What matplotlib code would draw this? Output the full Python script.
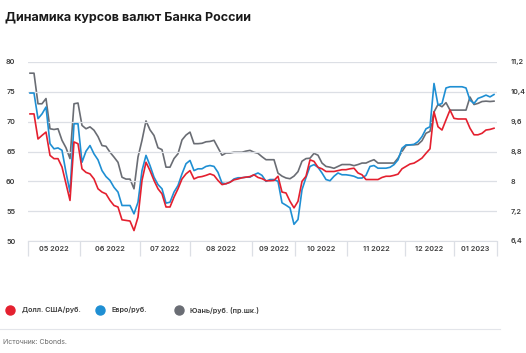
import matplotlib
matplotlib.use("Agg")
import matplotlib.pyplot as plt
from matplotlib.lines import Line2D
import numpy as np

plt.rcParams['font.family'] = ['Inter', 'DejaVu Sans']

# ---- data ----
usd = [71.3, 71.3, 67.1, 67.7, 68.25, 64.35, 63.8, 63.8, 62.4, 59.6,
       56.8, 66.6, 66.3, 62.1, 61.5, 61.25, 60.4, 58.75, 58.2, 57.9,
       56.8, 55.95, 55.7, 53.55, 53.45, 53.35, 51.75, 54.0, 60.15, 63.2,
       61.8, 60.15, 58.75, 57.9, 55.7, 55.7, 57.35, 58.75, 60.4, 61.25,
       61.8, 60.4, 60.7, 60.8, 61.0, 61.25, 61.0, 60.15, 59.45, 59.6,
       59.85, 60.25, 60.4, 60.6, 60.7, 60.8, 61.1, 60.65, 60.45, 60.1,
       60.1, 60.15, 60.85, 58.2, 58.05, 56.65, 55.55, 56.65, 60.0, 60.85,
       63.6, 63.35, 62.35, 62.1, 61.65, 61.65, 61.65, 61.8, 61.95, 61.95,
       62.1, 62.2, 61.4, 61.1, 60.3, 60.3, 60.3, 60.3, 60.65, 60.85,
       60.85, 61.0, 61.2, 62.1, 62.5, 62.9, 63.05, 63.45, 63.9, 64.7,
       65.45, 71.65, 69.15, 68.6, 70.3, 71.95, 70.55, 70.45, 70.45, 70.45,
       68.9, 67.8, 67.8, 68.05, 68.6, 68.7, 68.9]

eur = [74.8, 74.8, 70.5, 71.3, 72.45, 66.3, 65.45, 65.6, 65.2, 61.5,
       58.2, 69.65, 69.65, 63.2, 65.05, 66.0, 64.6, 63.6, 61.8, 60.8,
       60.15, 59.0, 58.2, 55.95, 55.95, 55.95, 54.55, 56.5, 61.8, 64.35,
       62.65, 60.7, 59.45, 58.75, 56.35, 56.5, 58.2, 59.3, 61.25, 62.95,
       63.5, 61.8, 62.1, 62.1, 62.5, 62.65, 62.5, 61.5, 59.7, 59.6,
       59.85, 60.4, 60.6, 60.6, 60.7, 60.7, 61.1, 61.4, 61.0, 60.0,
       60.3, 60.3, 60.0, 56.4, 56.0, 55.55, 52.8, 53.6, 58.6, 60.65,
       62.5, 62.8, 62.35, 61.4, 60.3, 60.1, 60.85, 61.4, 61.1, 61.1,
       61.0, 60.85, 60.55, 60.55, 61.0, 62.5, 62.65, 62.2, 62.2, 62.2,
       62.35, 62.8, 63.6, 65.55, 66.1, 66.1, 66.2, 66.65, 67.5, 68.8,
       69.15, 76.4, 72.8, 73.05, 75.65, 75.85, 75.85, 75.85, 75.85, 75.65,
       73.6, 73.05, 73.9, 74.15, 74.45, 74.15, 74.55]

cny = [10.90, 10.90, 10.08, 10.08, 10.22, 9.41, 9.39, 9.41, 9.10, 8.90,
       8.61, 10.08, 10.10, 9.50, 9.41, 9.46, 9.37, 9.20, 8.96, 8.94,
       8.78, 8.65, 8.51, 8.11, 8.06, 8.06, 7.80, 8.65, 9.10, 9.62,
       9.38, 9.23, 8.90, 8.85, 8.38, 8.38, 8.61, 8.74, 9.11, 9.24,
       9.32, 9.01, 9.01, 9.02, 9.06, 9.07, 9.10, 8.90, 8.70, 8.76,
       8.76, 8.78, 8.78, 8.78, 8.81, 8.83, 8.78, 8.75, 8.66, 8.58,
       8.58, 8.58, 8.22, 8.14, 8.09, 8.07, 8.14, 8.26, 8.54, 8.61,
       8.62, 8.75, 8.70, 8.49, 8.40, 8.38, 8.35, 8.40, 8.45, 8.45,
       8.45, 8.42, 8.45, 8.49, 8.49, 8.54, 8.58, 8.49, 8.49, 8.49,
       8.49, 8.49, 8.62, 8.80, 8.96, 8.98, 8.98, 8.99, 9.09, 9.29,
       9.34, 9.86, 10.06, 10.00, 10.11, 9.91, 9.91, 9.91, 9.91, 9.91,
       10.26, 10.06, 10.09, 10.14, 10.15, 10.14, 10.15]

month_labels = ['05 2022', '06 2022', '07 2022', '08 2022', '09 2022',
                '10 2022', '11 2022', '12 2022', '01 2023']
month_edges = [-0.5, 12.5, 27.5, 40, 55.5, 66.25, 79.25, 93.75, 106, 116.75]

left_ticks = [50, 55, 60, 65, 70, 75, 80]
right_ticks = [6.4, 7.2, 8.0, 8.8, 9.6, 10.4, 11.2]
right_labels = ['6,4', '7,2', '8', '8,8', '9,6', '10,4', '11,2']

series_names = ['Долл. США/руб.', 'Евро/руб.', 'Юань/руб. (пр.шк.)']

# ---- style ----
RED = '#e4202f'
BLUE = '#1f8fd3'
GREY = '#6a6d74'
GRID = '#dcdfe5'
TXT = '#3a3a3a'

W, H = 526, 353
fig = plt.figure(figsize=(W / 100, H / 100), dpi=100)
ax = fig.add_axes([28 / W, 1 - 241 / H, (497 - 28) / W, 179 / H])
ax2 = ax.twinx()

x = np.arange(len(usd))
ax2.plot(x, cny, color=GREY, lw=1.2, zorder=3)
ax.plot(x, eur, color=BLUE, lw=1.2, zorder=4)
ax.plot(x, usd, color=RED, lw=1.2, zorder=5)
ax.set_zorder(ax2.get_zorder() + 1)
ax.patch.set_visible(False)

ax.set_ylim(50, 80)
ax2.set_ylim(6.4, 11.2)
ax.set_xlim(month_edges[0], month_edges[-1])

ax.set_yticks(left_ticks)
ax.set_yticklabels([str(t) for t in left_ticks])
ax2.set_yticks(right_ticks)
ax2.set_yticklabels(right_labels)

for a in (ax, ax2):
    for s in a.spines.values():
        s.set_visible(False)
ax.spines['bottom'].set_visible(True)
ax.spines['bottom'].set_color(GRID)

ax.grid(axis='y', color=GRID, lw=0.9)
ax.tick_params(axis='y', length=0, pad=9, labelsize=5.2, labelcolor=TXT)
ax2.tick_params(axis='y', length=0, pad=10, labelsize=5.2, labelcolor=TXT)
for lab in ax.get_yticklabels() + ax2.get_yticklabels():
    lab.set_fontweight('semibold')

# month band
ax.set_xticks(month_edges)
ax.set_xticklabels([])
ax.tick_params(axis='x', which='major', length=11, width=0.9, color=GRID, direction='out')
centers = [(month_edges[k] + month_edges[k + 1]) / 2 for k in range(len(month_labels))]
ax.set_xticks(centers, minor=True)
ax.set_xticklabels(month_labels, minor=True)
ax.tick_params(axis='x', which='minor', length=0, pad=3.5, labelsize=5.2, labelcolor=TXT)
for lab in ax.get_xticklabels(minor=True):
    lab.set_fontweight('semibold')

# title
fig.text(5 / W, 1 - 17 / H, 'Динамика курсов валют Банка России', fontsize=9,
         fontweight='bold', color='#1a1a1a', va='center', ha='left')

# legend
leg_items = [(10, 22, RED), (100, 111, BLUE), (179, 190, GREY)]
for (cx, tx, col), name in zip(leg_items, series_names):
    fig.add_artist(Line2D([cx / W], [1 - 310 / H], marker='o', markersize=6.5,
                          color=col, linestyle='', transform=fig.transFigure))
    fig.text(tx / W, 1 - 310 / H, name, fontsize=5.2, fontweight='semibold',
             color=TXT, va='center', ha='left')

# separator and source
fig.add_artist(Line2D([0, 500 / W], [1 - 329 / H, 1 - 329 / H], color='#e3e5ea',
                      lw=0.8, transform=fig.transFigure))
fig.text(3 / W, 1 - 342 / H, 'Источник: Cbonds.', fontsize=5, color='#6a6a6a',
         va='center', ha='left')

fig.savefig('out.png', dpi=100)
